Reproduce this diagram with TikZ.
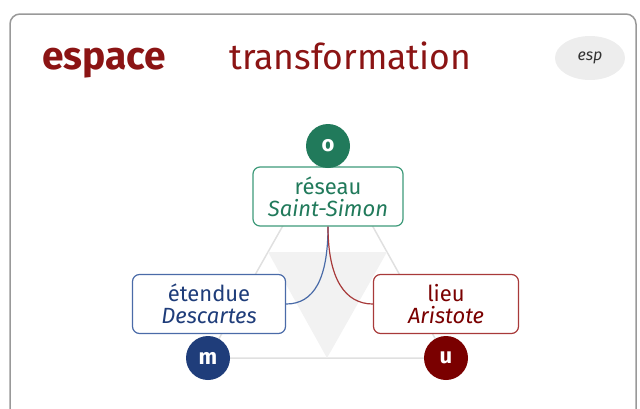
\documentclass[tikz,border=0pt]{standalone}
\usepackage{fontspec}
\setmainfont{Fira Sans}
\usetikzlibrary{calc,shapes.geometric}

\definecolor{espred}{HTML}{8B1414}
\definecolor{ogreen}{HTML}{217A5B}
\definecolor{oborder}{HTML}{3E9A7A}
\definecolor{mblue}{HTML}{1F3D7A}
\definecolor{mborder}{HTML}{4A6BA8}
\definecolor{ured}{HTML}{7A0000}
\definecolor{uborder}{HTML}{A83A3A}

\begin{document}
\begin{tikzpicture}[x=1pt, y=-1pt,
  pole/.style={circle, minimum size=44pt, inner sep=0pt, text=white,
    font=\fontsize{22}{22}\selectfont\bfseries},
  concept/.style={draw, rounded corners=7pt, fill=white, line width=1.2pt,
    minimum height=59pt, inner sep=3pt, align=center,
    font=\fontsize{22}{22}\selectfont},
  edge/.style={line width=1.5pt, black!12}]

\useasboundingbox (0,0) rectangle (640,408);

% Frame
\draw[black!40, line width=1.5pt, rounded corners=10pt] (10,14) rectangle (636,420);

% Title
\node[anchor=base west, inner sep=0pt, text=espred,
  font=\fontsize{39}{39}\selectfont\bfseries] (title) at (42,69) {espace};
\node[anchor=base west, inner sep=0pt, text=espred,
  font=\fontsize{35.5}{36}\selectfont] (subtitle) at (229,69) {transformation};
\node[ellipse, fill=black!7, minimum width=70pt, minimum height=44pt,
  text=black!80, font=\fontsize{16}{16}\selectfont\itshape] (badge) at (590,58) {esp};

% Poles of the triangle
\coordinate (po) at (328,146);
\coordinate (pm) at (208,358);
\coordinate (pu) at (446,358);

% Triangle and inner triangle
\draw[edge] (po) -- (pm) -- (pu) -- cycle;
\fill[black!5] ($(po)!0.5!(pm)$) -- ($(po)!0.5!(pu)$) -- ($(pm)!0.5!(pu)$) -- cycle;

% Concepts
\node[concept, draw=oborder, text=ogreen, minimum width=150pt] (reseau) at (328,196.5)
  {réseau\\ \itshape Saint-Simon};
\node[concept, draw=mborder, text=mblue, minimum width=153pt] (etendue) at (209,304)
  {étendue\\ \itshape Descartes};
\node[concept, draw=uborder, text=ured, minimum width=145pt] (lieu) at (446,304)
  {lieu\\ \itshape Aristote};

% Links
\draw[mborder, line width=1.2pt] (reseau.south) .. controls +(0,52) and +(28,0) .. (etendue.east);
\draw[uborder, line width=1.2pt] (reseau.south) .. controls +(0,52) and +(-28,0) .. (lieu.west);

% Pole markers
\node[pole, fill=ogreen] (o) at (po) {o};
\node[pole, fill=mblue] (m) at (pm) {m};
\node[pole, fill=ured] (u) at (pu) {u};

\end{tikzpicture}
\end{document}
